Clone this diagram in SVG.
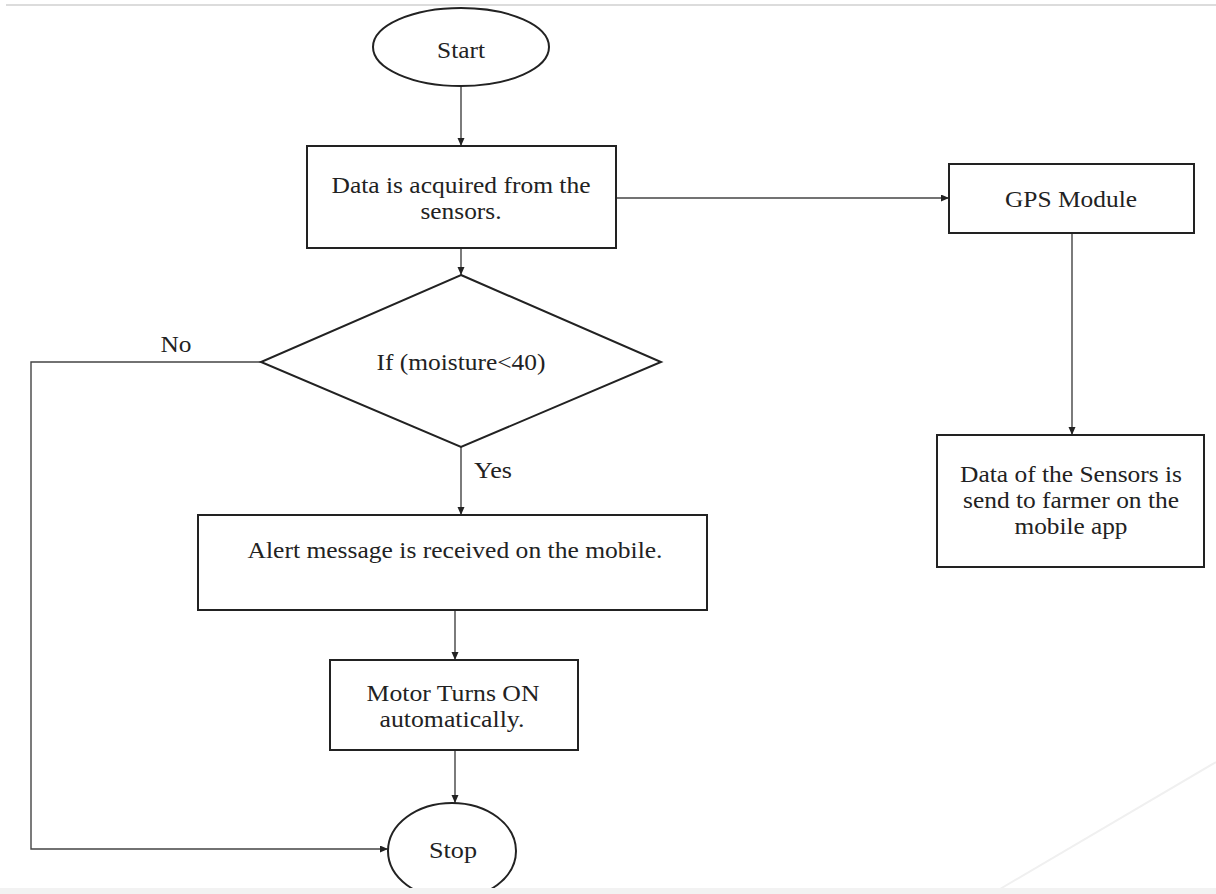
<svg xmlns="http://www.w3.org/2000/svg" width="1216" height="894" viewBox="0 0 1216 894">
<defs>
<marker id="arr" markerWidth="9" markerHeight="8" refX="8" refY="3.5" orient="auto" markerUnits="userSpaceOnUse">
<path d="M0,0 L8,3.5 L0,7 z" fill="#222"/>
</marker>
<style>
.shape{fill:#fff;stroke:#222;stroke-width:2}
.conn{fill:none;stroke:#444;stroke-width:1.4;marker-end:url(#arr)}
.t{font-family:"Liberation Serif","Times New Roman",serif;font-size:23px;fill:#222;text-anchor:middle}
</style>
</defs>
<rect x="0" y="0" width="1216" height="894" fill="#fff"/>
<line x1="6" y1="5" x2="1216" y2="5" stroke="#dcdcdc" stroke-width="2"/>
<line x1="1216" y1="762" x2="1000" y2="889" stroke="#f0f0f0" stroke-width="2"/>

<g id="connectors">
<path class="conn" d="M461,86 L461,146"/>
<path class="conn" d="M461,248 L461,275"/>
<path class="conn" d="M461,447 L461,515"/>
<path class="conn" d="M455,610 L455,660"/>
<path class="conn" d="M455,750 L455,803"/>
<path class="conn" d="M616,198 L949,198"/>
<path class="conn" d="M1072,233 L1072,435"/>
<path class="conn" d="M261,362 L31,362 L31,849 L388,849"/>
<text class="t" x="176" y="352" textLength="31" lengthAdjust="spacingAndGlyphs">No</text>
<text class="t" x="493" y="478" textLength="38" lengthAdjust="spacingAndGlyphs">Yes</text>
</g>

<g id="start">
<ellipse class="shape" cx="461" cy="47" rx="88" ry="39"/>
<text class="t" x="461" y="58" textLength="48" lengthAdjust="spacingAndGlyphs">Start</text>
</g>

<g id="acquire">
<rect class="shape" x="307" y="146" width="309" height="102"/>
<text class="t" x="461" y="193" textLength="259" lengthAdjust="spacingAndGlyphs">Data is acquired from the</text>
<text class="t" x="461" y="219" textLength="81" lengthAdjust="spacingAndGlyphs">sensors.</text>
</g>

<g id="decision">
<polygon class="shape" points="461,275 661,362 461,447 261,362"/>
<text class="t" x="461" y="370" textLength="169" lengthAdjust="spacingAndGlyphs">If (moisture&lt;40)</text>
</g>

<g id="alert">
<rect class="shape" x="198" y="515" width="509" height="95"/>
<text class="t" x="455" y="558" textLength="415" lengthAdjust="spacingAndGlyphs">Alert message is received on the mobile.</text>
</g>

<g id="motor">
<rect class="shape" x="330" y="660" width="248" height="90"/>
<text class="t" x="453" y="701" textLength="173" lengthAdjust="spacingAndGlyphs">Motor Turns ON</text>
<text class="t" x="452" y="727" textLength="145" lengthAdjust="spacingAndGlyphs">automatically.</text>
</g>

<g id="stop">
<ellipse class="shape" cx="452" cy="851" rx="64" ry="48"/>
<text class="t" x="453" y="858" textLength="48" lengthAdjust="spacingAndGlyphs">Stop</text>
</g>

<g id="gps">
<rect class="shape" x="949" y="164" width="245" height="69"/>
<text class="t" x="1071" y="207" textLength="132" lengthAdjust="spacingAndGlyphs">GPS Module</text>
</g>

<g id="send">
<rect class="shape" x="937" y="435" width="267" height="132"/>
<text class="t" x="1071" y="482" textLength="222" lengthAdjust="spacingAndGlyphs">Data of the Sensors is</text>
<text class="t" x="1071" y="508" textLength="216" lengthAdjust="spacingAndGlyphs">send to farmer on the</text>
<text class="t" x="1071" y="534" textLength="113" lengthAdjust="spacingAndGlyphs">mobile app</text>
</g>
<rect x="0" y="888" width="1216" height="6" fill="#f2f2f2"/>
</svg>
